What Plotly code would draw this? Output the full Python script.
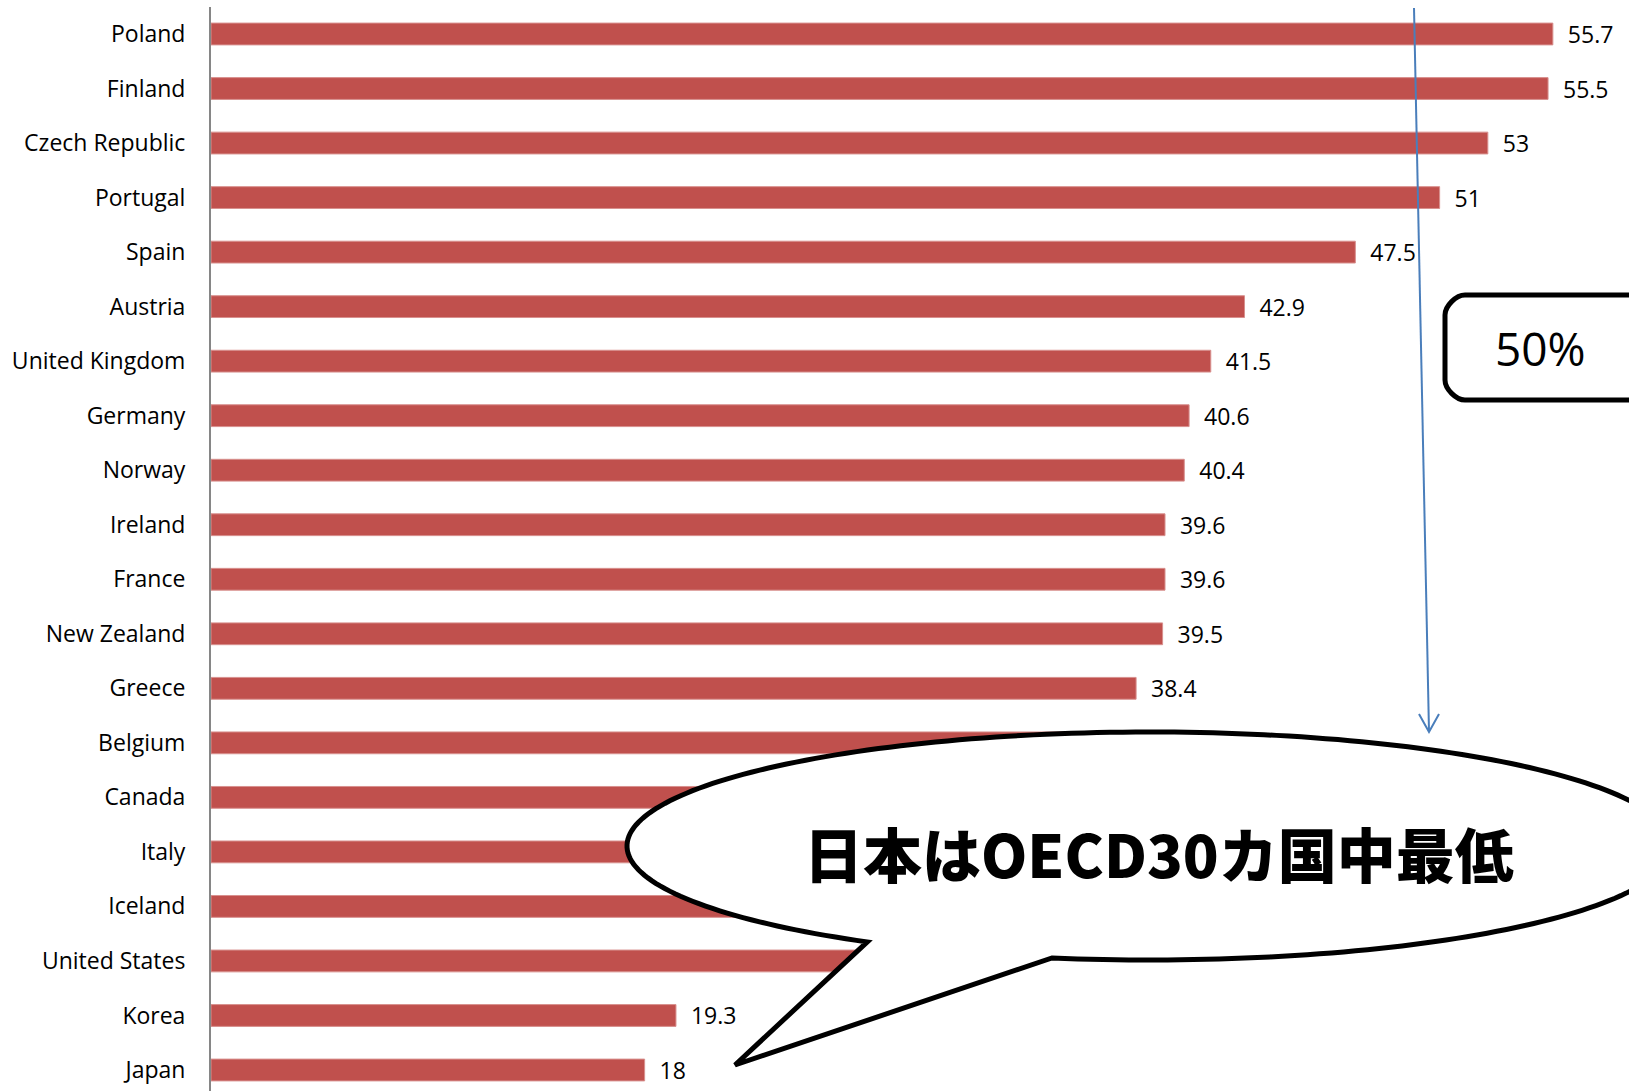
import numpy as np
import plotly.graph_objects as go

# Share by country (%), sorted from highest to lowest
countries = [
    "Poland", "Finland", "Czech Republic", "Portugal", "Spain", "Austria",
    "United Kingdom", "Germany", "Norway", "Ireland", "France", "New Zealand",
    "Greece", "Belgium", "Canada", "Italy", "Iceland", "United States",
    "Korea", "Japan",
]
values = [
    55.7, 55.5, 53, 51, 47.5, 42.9, 41.5, 40.6, 40.4, 39.6, 39.6, 39.5,
    38.4, 37.5, 35.7, 33.9, 31.5, 28.4, 19.3, 18,
]
# Bars whose value labels sit behind the speech bubble
behind_callout = {"Belgium", "Canada", "Italy", "Iceland", "United States"}
value_labels = [
    "" if c in behind_callout else "\u00a0\u00a0" + f"{v:g}"
    for c, v in zip(countries, values)
]

callout_text = "日本はOECD30カ国中最低"
box_text = "50%"

FIG_W, FIG_H = 1629, 1091
M_L, M_T = 211, 7
PLOT_W, PLOT_H = FIG_W - M_L, FIG_H - M_T


def px(x):
    """Horizontal pixel position -> paper fraction."""
    return (x - M_L) / PLOT_W


def py(y):
    """Vertical pixel position (from top) -> paper fraction."""
    return 1 - (y - M_T) / PLOT_H


def path_from(points, close=True):
    d = "M " + " L ".join(f"{px(x):.5f},{py(y):.5f}" for x, y in points)
    return d + (" Z" if close else "")


fig = go.Figure(
    go.Bar(
        x=values,
        y=countries,
        orientation="h",
        width=0.4,
        marker=dict(color="#C0504D", line=dict(color="#D8908E", width=1)),
        text=value_labels,
        textposition="outside",
        textfont=dict(family="Open Sans", size=23, color="#000000"),
        cliponaxis=False,
        constraintext="none",
        hoverinfo="skip",
    )
)

shapes = []

# Blue pointer arrow running down to the callout
shapes.append(dict(
    type="path", xref="paper", yref="paper", layer="above",
    path=path_from([(1414, 8), (1429, 732)], close=False),
    line=dict(color="#4A7EBB", width=2),
))
shapes.append(dict(
    type="path", xref="paper", yref="paper", layer="above",
    path=path_from([(1419, 714), (1429, 732), (1439, 714)], close=False),
    line=dict(color="#4A7EBB", width=2),
))

# Rounded "50%" box (runs off the right edge)
bx0, by0, bx1, by1, r = 1445, 295, 1680, 400, 20
k = 0.45 * r
box_path = (
    f"M {px(bx0 + r):.5f},{py(by0):.5f} L {px(bx1 - r):.5f},{py(by0):.5f} "
    f"L {px(bx1):.5f},{py(by0 + r):.5f} L {px(bx1):.5f},{py(by1 - r):.5f} "
    f"L {px(bx1 - r):.5f},{py(by1):.5f} L {px(bx0 + r):.5f},{py(by1):.5f} "
    f"C {px(bx0 + r - k):.5f},{py(by1):.5f} {px(bx0):.5f},{py(by1 - r + k):.5f} {px(bx0):.5f},{py(by1 - r):.5f} "
    f"L {px(bx0):.5f},{py(by0 + r):.5f} "
    f"C {px(bx0):.5f},{py(by0 + r - k):.5f} {px(bx0 + r - k):.5f},{py(by0):.5f} {px(bx0 + r):.5f},{py(by0):.5f} Z"
)
shapes.append(dict(
    type="path", xref="paper", yref="paper", layer="above",
    path=box_path, fillcolor="white", line=dict(color="black", width=5),
))

# Speech bubble: ellipse with a wedge tail pointing at Japan
cx, cy, rx, ry = 1150, 846, 523, 114
base_l, tip, base_r = (867, 942), (735, 1065), (1052, 958)
t_l = np.arctan2((base_l[1] - cy) / ry, (base_l[0] - cx) / rx)
t_r = np.arctan2((base_r[1] - cy) / ry, (base_r[0] - cx) / rx)
ts = np.linspace(t_r, t_l - 2 * np.pi, 240)
bubble_pts = [(cx + rx * np.cos(t), cy + ry * np.sin(t)) for t in ts]
bubble_pts.append(tip)
shapes.append(dict(
    type="path", xref="paper", yref="paper", layer="above",
    path=path_from(bubble_pts), fillcolor="white",
    line=dict(color="black", width=5),
))

annotations = [
    dict(
        text=callout_text, x=px(1159), y=py(852), xref="paper", yref="paper",
        showarrow=False, xanchor="center", yanchor="middle",
        font=dict(family="Noto Sans CJK JP", size=59, color="black", weight=900),
    ),
    dict(
        text=box_text, x=px(1540), y=py(348), xref="paper", yref="paper",
        showarrow=False, xanchor="center", yanchor="middle",
        font=dict(family="Open Sans", size=46, color="black"),
    ),
]

fig.update_layout(
    width=FIG_W,
    height=FIG_H,
    margin=dict(l=M_L, r=0, t=M_T, b=0, pad=0),
    plot_bgcolor="white",
    paper_bgcolor="white",
    showlegend=False,
    shapes=shapes,
    annotations=annotations,
    xaxis=dict(range=[0, 58.86], visible=False, fixedrange=True),
    yaxis=dict(
        type="category",
        categoryorder="array",
        categoryarray=countries,
        range=[19.385, -0.495],
        showline=True,
        linecolor="#868686",
        linewidth=2,
        ticks="",
        ticklabelstandoff=19,
        tickfont=dict(family="Open Sans", size=23, color="#000000"),
        showgrid=False,
        zeroline=False,
        fixedrange=True,
    ),
)

fig.write_html("out.html", config=dict(displayModeBar=False))
